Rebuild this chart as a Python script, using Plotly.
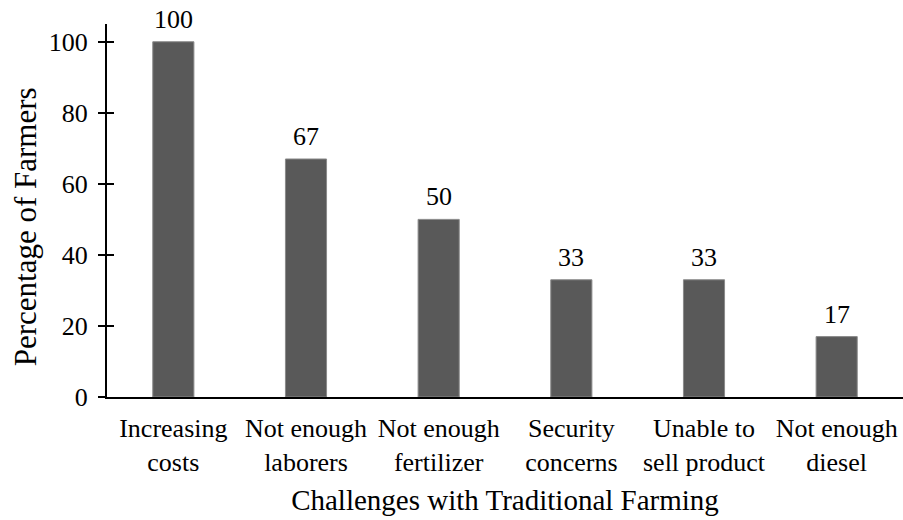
import plotly.graph_objects as go

categories = ["Increasing<br>costs", "Not enough<br>laborers", "Not enough<br>fertilizer",
              "Security<br>concerns", "Unable to<br>sell product", "Not enough<br>diesel"]
values = [100, 67, 50, 33, 33, 17]
y_ticks = [0, 20, 40, 60, 80, 100]

font_family = "Liberation Serif, Times New Roman, serif"

fig = go.Figure()
fig.add_trace(go.Bar(
    x=categories, y=values,
    marker=dict(color="#595959", line=dict(color="#8a8a8a", width=1)),
    width=0.31,
    hoverinfo="x+y",
))
# invisible trace on second y axis to draw inside tick marks
fig.add_trace(go.Scatter(x=categories, y=values, yaxis="y2", mode="markers",
                         marker=dict(opacity=0), hoverinfo="skip", showlegend=False))

for c, v in zip(categories, values):
    fig.add_annotation(x=c, y=v, text=str(v), showarrow=False,
                       yanchor="bottom", yshift=6,
                       font=dict(family=font_family, size=26, color="black"))

# y-axis title as annotation (placed slightly below the plot centre as in the reference)
fig.add_annotation(text="Percentage of Farmers", textangle=-90, showarrow=False,
                   xref="paper", yref="paper", x=-0.103, y=0.455,
                   xanchor="center", yanchor="middle",
                   font=dict(family=font_family, size=31, color="black"))

fig.update_layout(
    width=903, height=520,
    margin=dict(l=107, r=0, t=24, b=123),
    paper_bgcolor="white", plot_bgcolor="white",
    showlegend=False,
    font=dict(family=font_family, size=26, color="black"),
    xaxis=dict(
        showline=True, linecolor="black", linewidth=2,
        ticks="", showgrid=False,
        ticklabelstandoff=7,
        tickfont=dict(family=font_family, size=26, color="black"),
        title=dict(text="Challenges with Traditional Farming",
                   font=dict(family=font_family, size=29, color="black"), standoff=14),
    ),
    yaxis=dict(
        range=[0, 105], tickvals=y_ticks,
        showline=True, linecolor="black", linewidth=2,
        ticks="outside", ticklen=7, tickwidth=2, tickcolor="black",
        showgrid=False, zeroline=False,
        ticklabelstandoff=5,
        tickfont=dict(family=font_family, size=26, color="black"),
    ),
    yaxis2=dict(
        overlaying="y", side="left", range=[0, 105], tickvals=y_ticks,
        ticks="inside", ticklen=7, tickwidth=2, tickcolor="black",
        showticklabels=False, showgrid=False, zeroline=False, showline=False,
    ),
)
fig.write_html("out.html")
